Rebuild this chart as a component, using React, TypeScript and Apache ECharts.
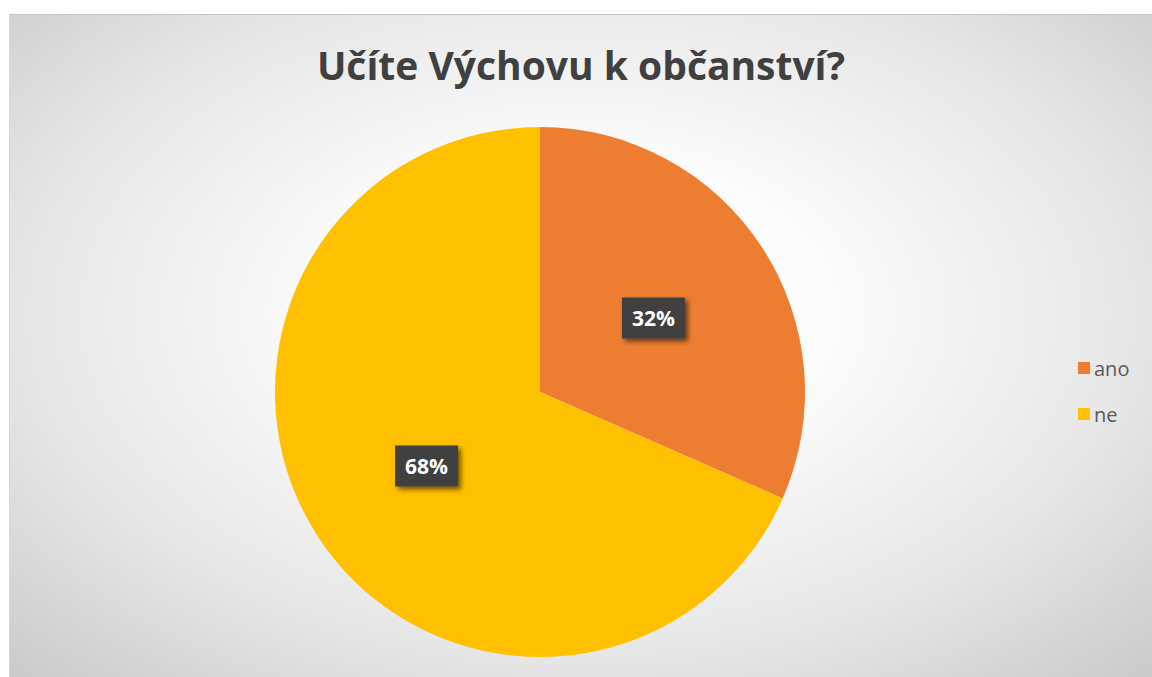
import React, { useEffect, useRef } from "react";
import * as echarts from "echarts";

const titleText = "Učíte Výchovu k občanství?";
const categories = ["ano", "ne"];
const values = [6, 13];
const colors = ["#ED7D31", "#FFC000"];

export default function App() {
  const ref = useRef<HTMLDivElement>(null);
  useEffect(() => {
    if (!ref.current) return;
    const chart = echarts.init(ref.current, undefined, { renderer: "svg" });
    chart.setOption({
      animation: false,
      backgroundColor: "transparent",
      title: {
        text: titleText,
        left: "center",
        top: 25,
        textStyle: {
          fontFamily: "Open Sans, Noto Sans, sans-serif",
          fontSize: 39,
          fontWeight: "bold",
          color: "#404040",
        },
      },
      legend: {
        orient: "vertical",
        left: 1063,
        top: 338,
        itemWidth: 12,
        itemHeight: 12,
        itemGap: 26,
        icon: "rect",
        data: categories,
        textStyle: {
          fontFamily: "Open Sans, Noto Sans, sans-serif",
          fontSize: 20,
          lineHeight: 20,
          color: "#595959",
          padding: [0, 0, 0, -1],
        },
      },
      series: [
        {
          type: "pie",
          center: [530, 377],
          radius: [0, 265],
          startAngle: 90,
          clockwise: true,
          silent: true,
          label: {
            show: true,
            position: "inside",
            formatter: (p: any) => Math.round(p.percent) + "%",
            color: "#ffffff",
            fontFamily: "Open Sans, Noto Sans, sans-serif",
            fontWeight: "bold",
            fontSize: 21,
            lineHeight: 24,
            backgroundColor: "#404040",
            padding: [9, 10, 8, 10],
            shadowColor: "rgba(0,0,0,0.55)",
            shadowBlur: 5,
            shadowOffsetX: 3,
            shadowOffsetY: 3,
          },
          labelLine: { show: false },
          itemStyle: { borderWidth: 0 },
          data: categories.map((c, i) => ({
            name: c,
            value: values[i],
            itemStyle: { color: colors[i] },
          })),
        },
      ],
    });
    return () => chart.dispose();
  }, []);
  return (
    <div
      style={{
        position: "absolute",
        left: 9,
        top: 14,
        width: 1143,
        height: 663,
        borderTop: "1px solid #c4c4c4",
        borderLeft: "1px solid #d8d8d8",
        boxSizing: "border-box",
        background:
          "radial-gradient(ellipse 75% 80% at 50% 45%, #ffffff 0%, #fbfbfb 30%, #e6e6e6 65%, #c6c6c6 100%)",
      }}
    >
      <div ref={ref} style={{ width: "100%", height: "100%" }} />
    </div>
  );
}
